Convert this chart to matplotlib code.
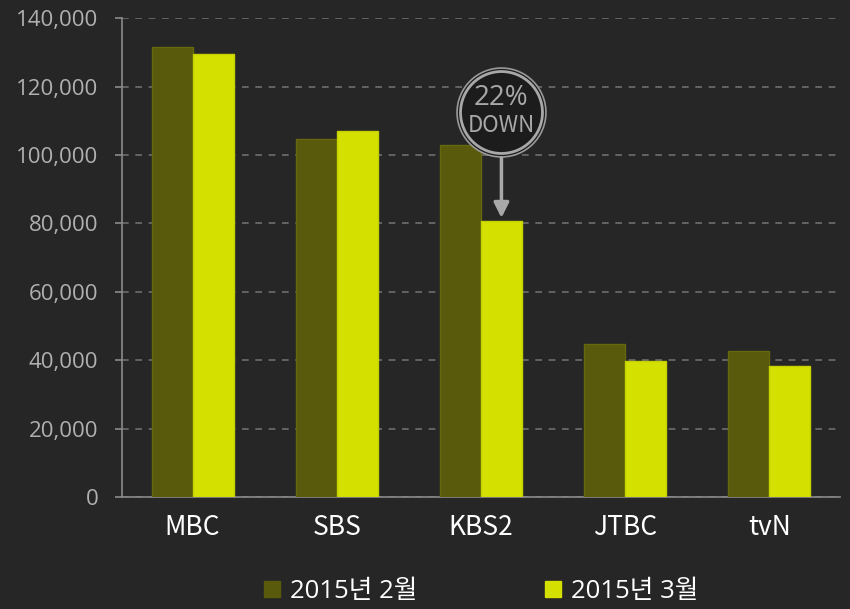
import numpy as np
import matplotlib.pyplot as plt
from matplotlib.ticker import FuncFormatter

plt.rcParams['font.family'] = ['Open Sans', 'Noto Sans CJK KR', 'DejaVu Sans']

# channels and monthly values
channels = ['MBC', 'SBS', 'KBS2', 'JTBC', 'tvN']
feb = [131500, 104600, 103000, 44800, 42800]
mar = [129500, 107000, 80800, 39700, 38200]
labels = ['2015년 2월', '2015년 3월']

bg = '#262626'
c_feb = '#595a0b'
c_mar = '#d4e000'

fig = plt.figure(figsize=(8.5, 6.09), dpi=100, facecolor=bg)
ax = fig.add_axes([0.1435, 0.184, 0.8445, 0.786])
ax.set_facecolor(bg)

x = np.arange(len(channels))
w = 0.285
ax.bar(x - w/2, feb, w, color=c_feb, edgecolor='#66670f', lw=1, label=labels[0], zorder=3)
ax.bar(x + w/2, mar, w, color=c_mar, edgecolor='#c6d000', lw=1, label=labels[1], zorder=3)

ax.set_xlim(-0.49, len(channels) - 0.51)
ax.set_ylim(0, 140000)
ax.set_yticks(np.arange(0, 140001, 20000))
ax.yaxis.set_major_formatter(FuncFormatter(lambda v, p: f'{int(v):,}'))
ax.grid(axis='y', color='#6e6e6e', ls=(0, (4, 4)), lw=1.2, zorder=0)

for s in ['top', 'right']:
    ax.spines[s].set_visible(False)
for s in ['left', 'bottom']:
    ax.spines[s].set_color('#8a8a8a')
    ax.spines[s].set_linewidth(1.2)

ax.tick_params(axis='y', colors='#8a8a8a', labelcolor='#b0b0b0', labelsize=16, length=5, width=1.2, pad=12)
ax.tick_params(axis='x', length=0, labelcolor='white', labelsize=19, pad=12)
ax.set_xticks(x)
ax.set_xticklabels(channels, family=['Noto Sans CJK KR'], fontweight='medium')

# 22% down badge over KBS2
i = channels.index('KBS2')
bx = i + w/2
cy = 112500
ax.plot(bx, cy, 'o', ms=64, mfc='#1c1c1c', mec='#9a9a9a', mew=1.2, zorder=5)
ax.plot(bx, cy, 'o', ms=59, mfc='#1c1c1c', mec='#a8a8a8', mew=2, zorder=6)
ax.text(bx, cy + 4200, '22%', ha='center', va='center', color='#a8a8a8', fontsize=20, zorder=7)
ax.text(bx, cy - 4000, 'DOWN', ha='center', va='center', color='#a8a8a8', fontsize=16,
        family=['Noto Sans CJK KR'], zorder=7)
ax.annotate('', xy=(bx, mar[i]), xytext=(bx, cy - 12500),
            arrowprops=dict(arrowstyle='-|>,head_width=0.45,head_length=0.9', color='#a8a8a8', lw=2.5),
            zorder=6)

h1 = plt.Line2D([], [], marker='s', ls='', color=c_feb, ms=11)
h2 = plt.Line2D([], [], marker='s', ls='', color=c_mar, ms=11)
fig.legend([h1, h2], labels, loc='lower center', bbox_to_anchor=(0.565, -0.03), ncol=2,
           frameon=False, fontsize=18.5, labelcolor='white', handletextpad=0.3,
           columnspacing=4.9, handlelength=0.8)

fig.savefig('out.png', facecolor=bg)
